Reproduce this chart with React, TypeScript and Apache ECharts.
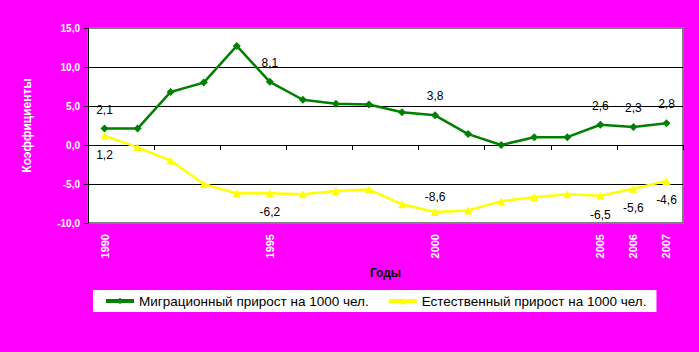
import React, { useEffect, useRef } from "react";
import * as echarts from "echarts";

const years = ["1990","1991","1992","1993","1994","1995","1996","1997","1998","1999","2000","2001","2002","2003","2004","2005","2006","2007"];
const migration = [2.1, 2.1, 6.8, 8.0, 12.7, 8.1, 5.8, 5.3, 5.2, 4.2, 3.8, 1.4, 0.0, 1.0, 1.0, 2.6, 2.3, 2.8];
const natural = [1.2, -0.3, -2.0, -5.0, -6.2, -6.2, -6.3, -5.9, -5.7, -7.6, -8.6, -8.4, -7.2, -6.7, -6.3, -6.5, -5.6, -4.6];
const labeledYears = ["1990", "1995", "2000", "2005", "2006", "2007"];
const naturalLabelsAbove = ["2000"];
const seriesNames = ["Миграционный прирост на 1000 чел.", "Естественный прирост на 1000 чел."];
const yTicks = { min: -10, max: 15, interval: 5 };

const FONT = "Liberation Sans, Arial, sans-serif";
const fmt = (v: number) => v.toFixed(1).replace(".", ",");

export default function App() {
  const ref = useRef<HTMLDivElement>(null);
  useEffect(() => {
    document.body.style.margin = "0";
    document.body.style.background = "#FF00FF";
    const chart = echarts.init(ref.current!, null, { renderer: "svg" });
    const labelStyle = { color: "#000", fontSize: 12, fontFamily: FONT };
    const migData = migration.map((v, i) => ({
      value: v,
      label: { show: labeledYears.includes(years[i]), position: "top", distance: 9, formatter: () => fmt(v), ...labelStyle },
    }));
    const natData = natural.map((v, i) => ({
      value: v,
      label: {
        show: labeledYears.includes(years[i]),
        position: naturalLabelsAbove.includes(years[i]) ? "top" : "bottom",
        distance: naturalLabelsAbove.includes(years[i]) ? 5 : 9,
        formatter: () => fmt(v),
        ...labelStyle,
      },
    }));
    const white = { color: "#fff", fontWeight: "bold", fontFamily: FONT };
    chart.setOption({
      animation: false,
      backgroundColor: "#FF00FF",
      grid: {
        left: 88, top: 28, right: 16, bottom: 129,
        show: true, backgroundColor: "#fff", borderColor: "#808080", borderWidth: 2,
      },
      legend: {
        left: 93, top: 290,
        backgroundColor: "#fff",
        padding: [4, 10, 4, 11],
        itemWidth: 28, itemHeight: 8, itemGap: 18,
        lineStyle: { width: 4 },
        textStyle: { color: "#000", fontSize: 13.5, fontFamily: FONT },
        data: seriesNames,
      },
      xAxis: [
        {
          type: "category", data: years, boundaryGap: true,
          axisLine: { show: true, onZero: true, lineStyle: { color: "#000", width: 1 } },
          axisTick: { show: true, length: 5, lineStyle: { color: "#000" } },
          axisLabel: { show: false },
          splitLine: { show: false },
        },
        {
          type: "category", data: years, boundaryGap: true, position: "bottom",
          axisLine: { show: false, onZero: false },
          axisTick: { show: false },
          axisLabel: {
            show: true, rotate: 90, margin: 11, fontSize: 11,
            interval: (i: number) => labeledYears.includes(years[i]),
            ...white,
          },
          name: "Годы", nameLocation: "middle", nameGap: 44,
          nameTextStyle: { color: "#000", fontSize: 12, fontWeight: "bold", fontFamily: FONT },
        },
      ],
      yAxis: {
        type: "value", min: yTicks.min, max: yTicks.max, interval: yTicks.interval,
        axisLine: { show: true, lineStyle: { color: "#000" } },
        axisTick: { show: true, length: 4, lineStyle: { color: "#000" } },
        axisLabel: { formatter: (v: number) => fmt(v), fontSize: 10, margin: 8, ...white },
        splitLine: { show: true, lineStyle: { color: ["#808080", "#000", "#000", "#000", "#000", "#808080"], width: 1 } },
        name: "Коэффициенты", nameLocation: "middle", nameGap: 55, nameRotate: 90,
        nameTextStyle: { fontSize: 12, ...white },
      },
      series: [
        {
          name: seriesNames[0], type: "line", data: migData, xAxisIndex: 0,
          symbol: "diamond", symbolSize: 8,
          lineStyle: { color: "#008000", width: 2.5 },
          itemStyle: { color: "#008000" },
        },
        {
          name: seriesNames[1], type: "line", data: natData, xAxisIndex: 0,
          symbol: "triangle", symbolSize: 8,
          lineStyle: { color: "#FFFF00", width: 2.5 },
          itemStyle: { color: "#FFFF00" },
        },
      ],
    });
    return () => chart.dispose();
  }, []);
  return <div ref={ref} style={{ position: "fixed", left: 0, top: 0, width: 699, height: 352, background: "#FF00FF" }} />;
}
